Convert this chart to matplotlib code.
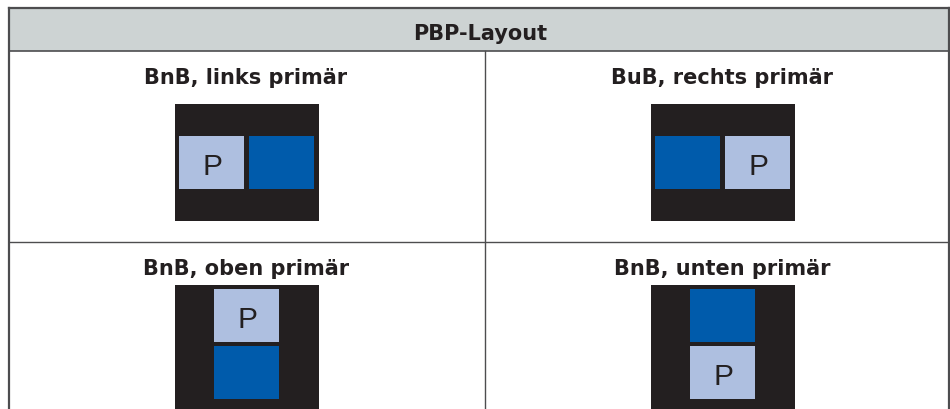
import matplotlib
matplotlib.use("Agg")
import matplotlib.pyplot as plt
from matplotlib.patches import Rectangle

plt.rcParams['font.family'] = ['DejaVu Sans']

header_title = "PBP-Layout"
panel_titles = ["BnB, links primär", "BuB, rechts primär",
                "BnB, oben primär", "BnB, unten primär"]
# orientation of the split and which sub-window is primary ("P")
panel_orient = ["h", "h", "v", "v"]
panel_primary = [0, 1, 0, 1]

BLACK = "#231f20"
LIGHT = "#aebfe0"
BLUE = "#005bab"
HEADER = "#cdd3d3"
LINE = "#4d4d4f"

fig = plt.figure(figsize=(9.5, 4.1), dpi=100)
ax = fig.add_axes([0, 0, 1, 1])
ax.set_xlim(0, 950)
ax.set_ylim(410, 0)
ax.axis("off")

L, R, T, HB, MID, ROW, B = 8.5, 948.5, 9, 52, 485, 243, 420

# header
ax.add_patch(Rectangle((L, T), R - L, HB - T, facecolor=HEADER, edgecolor="none"))
ax.plot([L, R], [T, T], color=LINE, lw=1.6)
ax.plot([L, R], [HB, HB], color=LINE, lw=1.2)
ax.plot([L, L], [T, B], color=LINE, lw=1.6)
ax.plot([R, R], [T, B], color=LINE, lw=1.6)
ax.plot([MID, MID], [HB, B], color=LINE, lw=1.0)
ax.plot([L, R], [ROW, ROW], color=LINE, lw=1.0)
ax.text((L + R) / 2 + 1.5, 39.5, header_title, ha="center", va="baseline",
        fontsize=15, fontweight="bold", color=BLACK)

col_centers = [247, 723]
row_tops = [HB, ROW]

for i in range(4):
    cx = col_centers[i % 2]
    top = row_tops[i // 2]
    ax.text(cx - 1, top + 32, panel_titles[i], ha="center", va="baseline",
            fontsize=15, fontweight="bold", color=BLACK)
    bx0 = cx - 72
    if i < 2:
        by0, bh = top + 53, 117
    else:
        by0, bh = top + 43, 140
    ax.add_patch(Rectangle((bx0, by0), 144, bh, facecolor=BLACK, edgecolor="none"))
    w, h = 65, 53
    if panel_orient[i] == "h":
        boxes = [(bx0 + 4, top + 85), (bx0 + 74, top + 85)]
    else:
        boxes = [(cx - 33, top + 47), (cx - 33, top + 104)]
    for j, (x0, y0) in enumerate(boxes):
        prim = (j == panel_primary[i])
        ax.add_patch(Rectangle((x0, y0), w, h, facecolor=LIGHT if prim else BLUE,
                               edgecolor="none"))
        if prim:
            ax.text(x0 + w / 2 + 1, y0 + 38.5, "P", ha="center", va="baseline",
                    fontsize=21.5, color=BLACK, family=["Liberation Sans"])

fig.savefig("out.png", dpi=100)
